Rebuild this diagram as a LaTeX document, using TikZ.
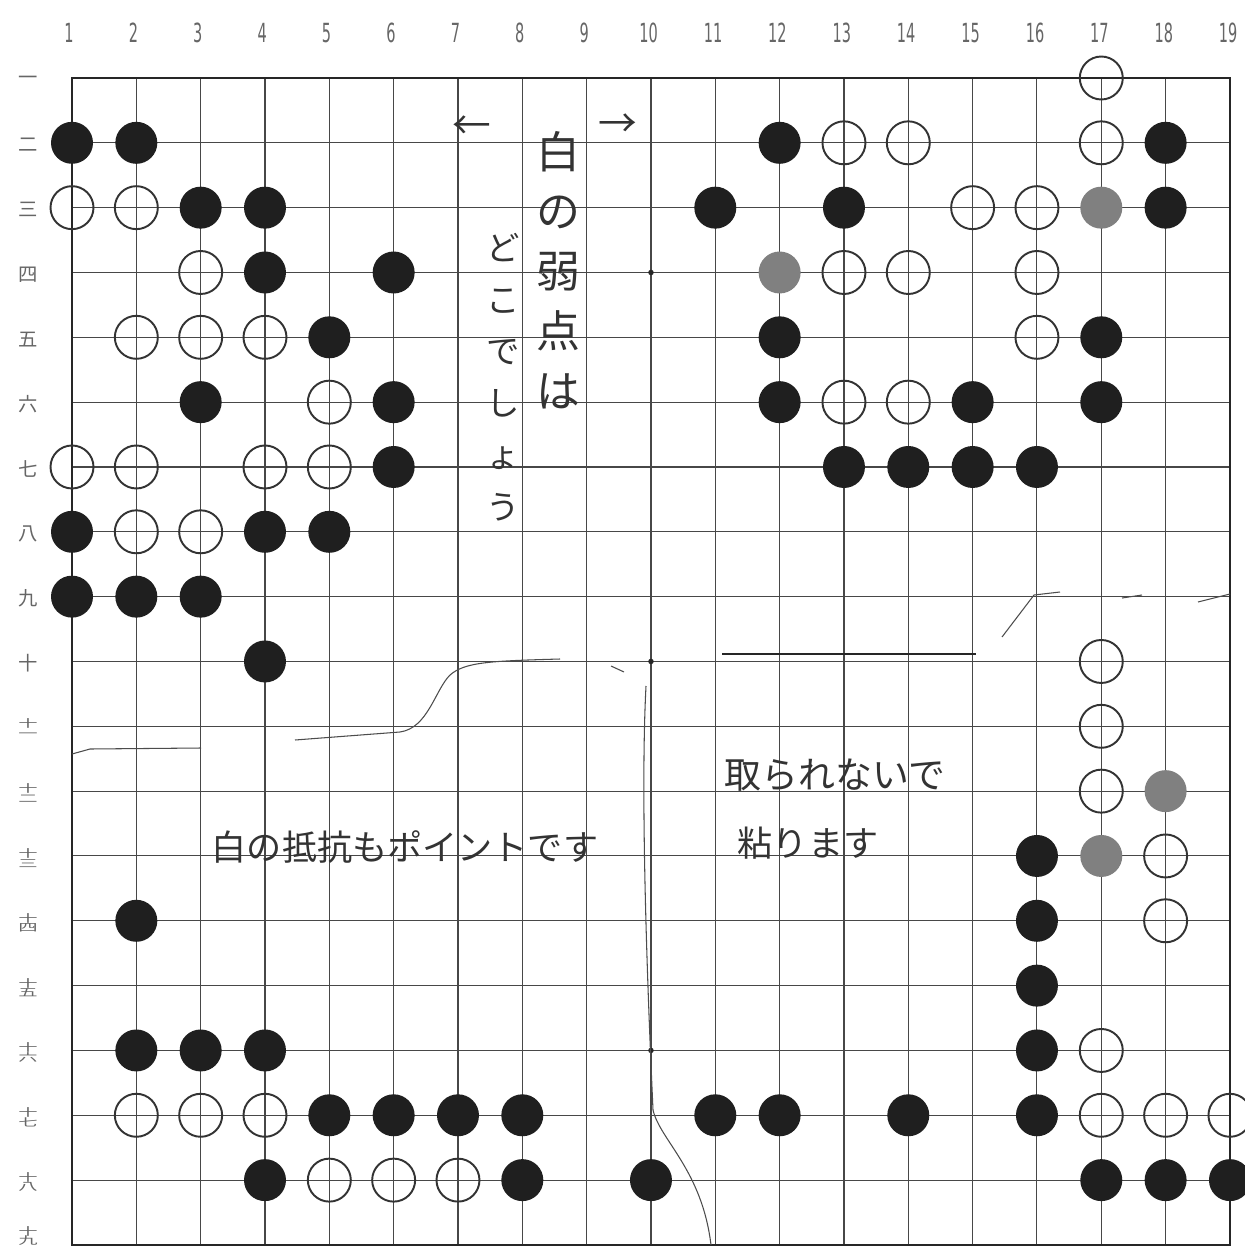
\documentclass[tikz,border=0pt]{standalone}
\usepackage{fontspec}
\usepackage{graphicx}
\newfontfamily\jpfont{Noto Sans CJK JP}
\newfontfamily\numfont[FakeStretch=0.55]{DejaVu Sans}
\newcommand{\twoup}[1]{\scalebox{1}[.55]{十}\\[-1pt]\scalebox{1}[.55]{#1}}
\tikzset{
  bstone/.style={circle, fill=black!88, minimum size=0.84cm, inner sep=0pt},
  gstone/.style={circle, fill=black!50, minimum size=0.84cm, inner sep=0pt},
  wstone/.style={circle, draw=black!80, line width=1.1pt, minimum size=0.86cm, inner sep=0pt},
  hoshi/.style={circle, fill=black!85, minimum size=0.11cm, inner sep=0pt},
  gridline/.style={black!72, line width=0.6pt},
  frameline/.style={black!85, line width=1.3pt},
  inkline/.style={black!70, line width=0.6pt},
  colnum/.style={font=\numfont\fontsize{15}{15}\selectfont, text=black!60},
  rownum/.style={font=\jpfont\fontsize{11}{6.5}\selectfont, text=black!60, align=center},
  hand/.style={text=black!80, align=center, inner sep=0pt}
}
\begin{document}
\begin{tikzpicture}[x=0.02cm, y=-0.02cm]
\useasboundingbox[fill=white] (0,0) rectangle (1244,1250);
% board
\foreach \c in {1,...,19}
  \draw[gridline] ({72+(\c-1)*64.33},78) -- ({72+(\c-1)*64.33},1245);
\foreach \r in {1,...,19}
  \draw[gridline] (72,{78+(\r-1)*64.83}) -- (1230,{78+(\r-1)*64.83});
\draw[frameline] (72,78) rectangle (1230,1245);
\foreach \c/\r in {10/4, 10/10, 10/16}
  \node[hoshi] (star\c-\r) at ({72+(\c-1)*64.33},{78+(\r-1)*64.83}) {};
% coordinates
\foreach \c in {1,...,19}
  \node[colnum] (col\c) at ({69+(\c-1)*64.4},33) {\c};
\foreach \r/\k in {1/一, 2/二, 3/三, 4/四, 5/五, 6/六, 7/七, 8/八, 9/九, 10/十}
  \node[rownum] (row\r) at (28,{80+(\r-1)*64.83}) {\k};
\foreach \r/\k in {11/一, 12/二, 13/三, 14/四, 15/五, 16/六, 17/七, 18/八}
  \node[rownum] (row\r) at (28,{80+(\r-1)*64.83}) {\twoup{\k}};
\node[rownum] (row19) at (28,1236) {\twoup{九}};
% hand-drawn marks
\draw[inkline] (295,740) -- (400,732) .. controls (428,728) and (435,690) .. (450,675)
  .. controls (465,662) and (490,661) .. (560,659);
\draw[inkline] (611,666) -- (624,672);
\draw[inkline] (72,754) -- (90,749) -- (201,748);
\draw[inkline] (646,686) .. controls (640,800) and (648,1000) .. (653,1110)
  .. controls (660,1140) and (702,1170) .. (711,1245);
\draw[inkline] (1002,637) -- (1034,595) -- (1060,592);
\draw[inkline] (1122,598) -- (1142,595);
\draw[inkline] (1198,602) -- (1230,594);
\draw[black!85, line width=1.2pt] (722,654) -- (976,654);
% stones
\foreach \c/\r in {1/2, 2/2, 12/2, 18/2, 3/3, 4/3, 11/3, 13/3, 18/3, 4/4, 6/4,
  5/5, 12/5, 17/5, 3/6, 6/6, 12/6, 15/6, 17/6, 6/7, 13/7, 14/7, 15/7, 16/7,
  1/8, 4/8, 5/8, 1/9, 2/9, 3/9, 4/10, 16/13, 2/14, 16/14, 16/15,
  2/16, 3/16, 4/16, 16/16, 5/17, 6/17, 7/17, 8/17, 11/17, 12/17, 14/17, 16/17,
  4/18, 8/18, 10/18, 17/18, 18/18, 19/18}
  \node[bstone] (b\c-\r) at ({72+(\c-1)*64.33},{78+(\r-1)*64.83}) {};
\foreach \c/\r in {17/3, 12/4, 18/12, 17/13}
  \node[gstone] (g\c-\r) at ({72+(\c-1)*64.33},{78+(\r-1)*64.83}) {};
\foreach \c/\r in {17/1, 13/2, 14/2, 17/2, 1/3, 2/3, 15/3, 16/3, 3/4, 13/4, 14/4, 16/4,
  2/5, 3/5, 4/5, 16/5, 5/6, 13/6, 14/6, 1/7, 2/7, 4/7, 5/7, 2/8, 3/8,
  17/10, 17/11, 17/12, 18/13, 18/14, 17/16, 2/17, 3/17, 4/17, 17/17, 18/17, 19/17,
  5/18, 6/18, 7/18}
  \node[wstone] (w\c-\r) at ({72+(\c-1)*64.33},{78+(\r-1)*64.83}) {};
% notes
\node[hand, font=\jpfont\fontsize{22}{22}\selectfont] (larr) at (472,128) {←};
\node[hand, font=\jpfont\fontsize{22}{22}\selectfont] (rarr) at (618,126) {→};
\node[hand, font=\jpfont\fontsize{25}{34}\selectfont] (weak) at (558,270) {白\\の\\弱\\点\\は};
\node[hand, font=\jpfont\fontsize{19}{29.5}\selectfont] (where) at (503,377) {ど\\こ\\で\\し\\ょ\\う};
\node[hand, font=\jpfont\fontsize{20}{20}\selectfont] (resist) at (405,847) {白の抵抗もポイントです};
\node[hand, font=\jpfont\fontsize{21}{21}\selectfont] (notcap) at (835,775) {取られないで};
\node[hand, font=\jpfont\fontsize{20}{20}\selectfont] (hold) at (808,843) {粘ります};
\end{tikzpicture}
\end{document}
